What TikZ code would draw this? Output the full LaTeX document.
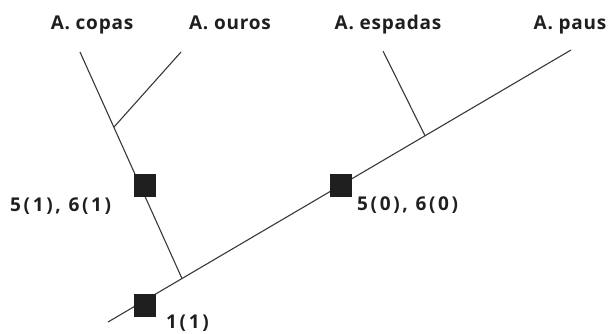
\documentclass[tikz,border=0pt]{standalone}
\usepackage{fontspec}
\setmainfont{Open Sans}
\newfontfamily\taxonfont{Open Sans}[LetterSpace=4]
\newfontfamily\numfont{Open Sans}[LetterSpace=14]
\usetikzlibrary{calc}
\begin{document}
\begin{tikzpicture}[x=1pt,y=-1pt,
  branch/.style={draw=black!78, line width=1.1pt},
  marker/.style={fill=black!88, draw=none, minimum width=22pt, minimum height=23pt, inner sep=0pt},
  taxon/.style={font=\taxonfont\fontsize{19}{22}\selectfont\bfseries, text=black!88, anchor=base, inner sep=0pt},
  lbl/.style={font=\numfont\fontsize{19}{22}\selectfont\bfseries, text=black!88, anchor=base west, inner sep=0pt}]
\useasboundingbox (0,0) rectangle (611,333);
% taxa labels
\node[taxon] (tc) at (92,29) {A. copas};
\node[taxon] (to) at (230,29) {A. ouros};
\node[taxon] (te) at (388,29) {A. espadas};
\node[taxon] (tp) at (570,29) {A. paus};
% tree points
\coordinate (copas) at (80,52);
\coordinate (ouros) at (181,52);
\coordinate (espadas) at (383,51);
\coordinate (paus) at (571,50);
\coordinate (root) at (108,322);
\coordinate (j2) at ($(paus)!0.8402!(root)$);
\coordinate (j3) at ($(paus)!0.3153!(root)$);
\coordinate (j1) at ($(copas)!0.3319!(j2)$);
% branches
\draw[branch] (paus) -- (root);
\draw[branch] (copas) -- (j2);
\draw[branch] (ouros) -- (j1);
\draw[branch] (espadas) -- (j3);
% character-change markers
\node[marker] (m1) at (145,185) {};
\node[marker] (m2) at (341,185) {};
\node[marker] (m3) at (145,305) {};
% labels
\node[lbl] (l1) at (10,211) {5(1), 6(1)};
\node[lbl] (l2) at (357,210) {5(0), 6(0)};
\node[lbl] (l3) at (166,328) {1(1)};
\end{tikzpicture}
\end{document}
